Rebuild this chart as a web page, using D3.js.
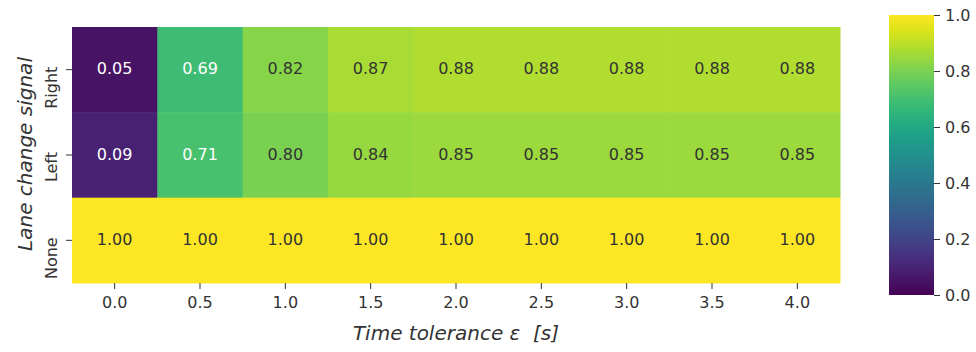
<!DOCTYPE html>
<html>
<head>
<meta charset="utf-8">
<script src="https://cdn.jsdelivr.net/npm/d3@7"></script>
<style>
  html, body { margin: 0; padding: 0; background: #fff; }
  svg { display: block; font-family: "DejaVu Sans", sans-serif; }
</style>
</head>
<body>
<svg id="chart" width="976" height="352"></svg>
<script>
// Lane change detection rate per signal type vs. time tolerance
const tolerances = ["0.0", "0.5", "1.0", "1.5", "2.0", "2.5", "3.0", "3.5", "4.0"];
const signals = ["Right", "Left", "None"];
const rightValues = [0.05, 0.69, 0.82, 0.87, 0.88, 0.88, 0.88, 0.88, 0.88];
const leftValues = [0.09, 0.71, 0.80, 0.84, 0.85, 0.85, 0.85, 0.85, 0.85];
const noneValues = [1.00, 1.00, 1.00, 1.00, 1.00, 1.00, 1.00, 1.00, 1.00];
const colorbarTicks = [0.0, 0.2, 0.4, 0.6, 0.8, 1.0];

const rows = { Right: rightValues, Left: leftValues, None: noneValues };
const cells = [];
signals.forEach(s => rows[s].forEach((v, i) => cells.push({ signal: s, tol: tolerances[i], value: v })));

const svg = d3.select("#chart");
const textColor = "#333333";
const fontSize = 16;

const x = d3.scaleBand().domain(tolerances).range([72, 840]);
const y = d3.scaleBand().domain(signals).range([27, 283]);
const color = d3.scaleSequential(d3.interpolateViridis).domain([0, 1]);

// heatmap cells
svg.append("g").selectAll("rect").data(cells).join("rect")
  .attr("x", d => x(d.tol))
  .attr("y", d => y(d.signal))
  .attr("width", x.bandwidth() + 0.5)
  .attr("height", y.bandwidth() + 0.5)
  .attr("fill", d => color(d.value));

// cell annotations: light text on dark cells
function lum(c) {
  const r = d3.rgb(c);
  const f = v => { v /= 255; return v <= 0.03928 ? v / 12.92 : Math.pow((v + 0.055) / 1.055, 2.4); };
  return 0.2126 * f(r.r) + 0.7152 * f(r.g) + 0.0722 * f(r.b);
}
svg.append("g").selectAll("text").data(cells).join("text")
  .attr("x", d => x(d.tol) + x.bandwidth() / 2)
  .attr("y", d => y(d.signal) + y.bandwidth() / 2 + 4.5)
  .attr("text-anchor", "middle")
  .attr("font-size", fontSize)
  .attr("fill", d => lum(color(d.value)) > 0.408 ? textColor : "#ffffff")
  .text(d => d.value.toFixed(2));

// x axis
const xAxis = svg.append("g").attr("transform", "translate(0,283)")
  .call(d3.axisBottom(x).tickSize(6).tickPadding(8));
xAxis.select(".domain").remove();
xAxis.selectAll("line").attr("stroke", textColor);
xAxis.selectAll("text").attr("fill", textColor).attr("font-size", fontSize).attr("font-family", "DejaVu Sans");

// y axis, labels rotated with their end at the tick
const yAxis = svg.append("g").attr("transform", "translate(72,0)")
  .call(d3.axisLeft(y).tickSize(6).tickPadding(6));
yAxis.select(".domain").remove();
yAxis.selectAll("line").attr("stroke", textColor);
yAxis.selectAll("text")
  .attr("fill", textColor).attr("font-size", fontSize).attr("font-family", "DejaVu Sans")
  .attr("transform", "rotate(-90)")
  .attr("x", 3).attr("y", -15)
  .attr("dy", 0)
  .attr("text-anchor", "end");

// axis titles
svg.append("text")
  .attr("x", 456).attr("y", 340)
  .attr("text-anchor", "middle")
  .attr("font-size", 20).attr("font-style", "italic").attr("fill", textColor)
  .text("Time tolerance ε\u00a0\u00a0[s]");
svg.append("text")
  .attr("transform", "translate(32,154) rotate(-90)")
  .attr("text-anchor", "middle")
  .attr("font-size", 20).attr("font-style", "italic").attr("fill", textColor)
  .text("Lane change signal");

// colorbar
const cbX = 889, cbW = 45, cbTop = 15, cbBottom = 295;
const defs = svg.append("defs");
const grad = defs.append("linearGradient").attr("id", "cbgrad")
  .attr("x1", 0).attr("y1", 1).attr("x2", 0).attr("y2", 0);
d3.range(0, 1.0001, 0.05).forEach(t => grad.append("stop").attr("offset", t).attr("stop-color", color(t)));
svg.append("rect").attr("x", cbX).attr("y", cbTop).attr("width", cbW).attr("height", cbBottom - cbTop)
  .attr("fill", "url(#cbgrad)");
const cbScale = d3.scaleLinear().domain([0, 1]).range([cbBottom, cbTop]);
const cbAxis = svg.append("g").attr("transform", `translate(${cbX + cbW},0)`)
  .call(d3.axisRight(cbScale).tickValues(colorbarTicks).tickFormat(d3.format(".1f")).tickSize(6).tickPadding(5));
cbAxis.select(".domain").remove();
cbAxis.selectAll("line").attr("stroke", textColor);
cbAxis.selectAll("text").attr("fill", textColor).attr("font-size", fontSize).attr("font-family", "DejaVu Sans");
</script>
</body>
</html>
